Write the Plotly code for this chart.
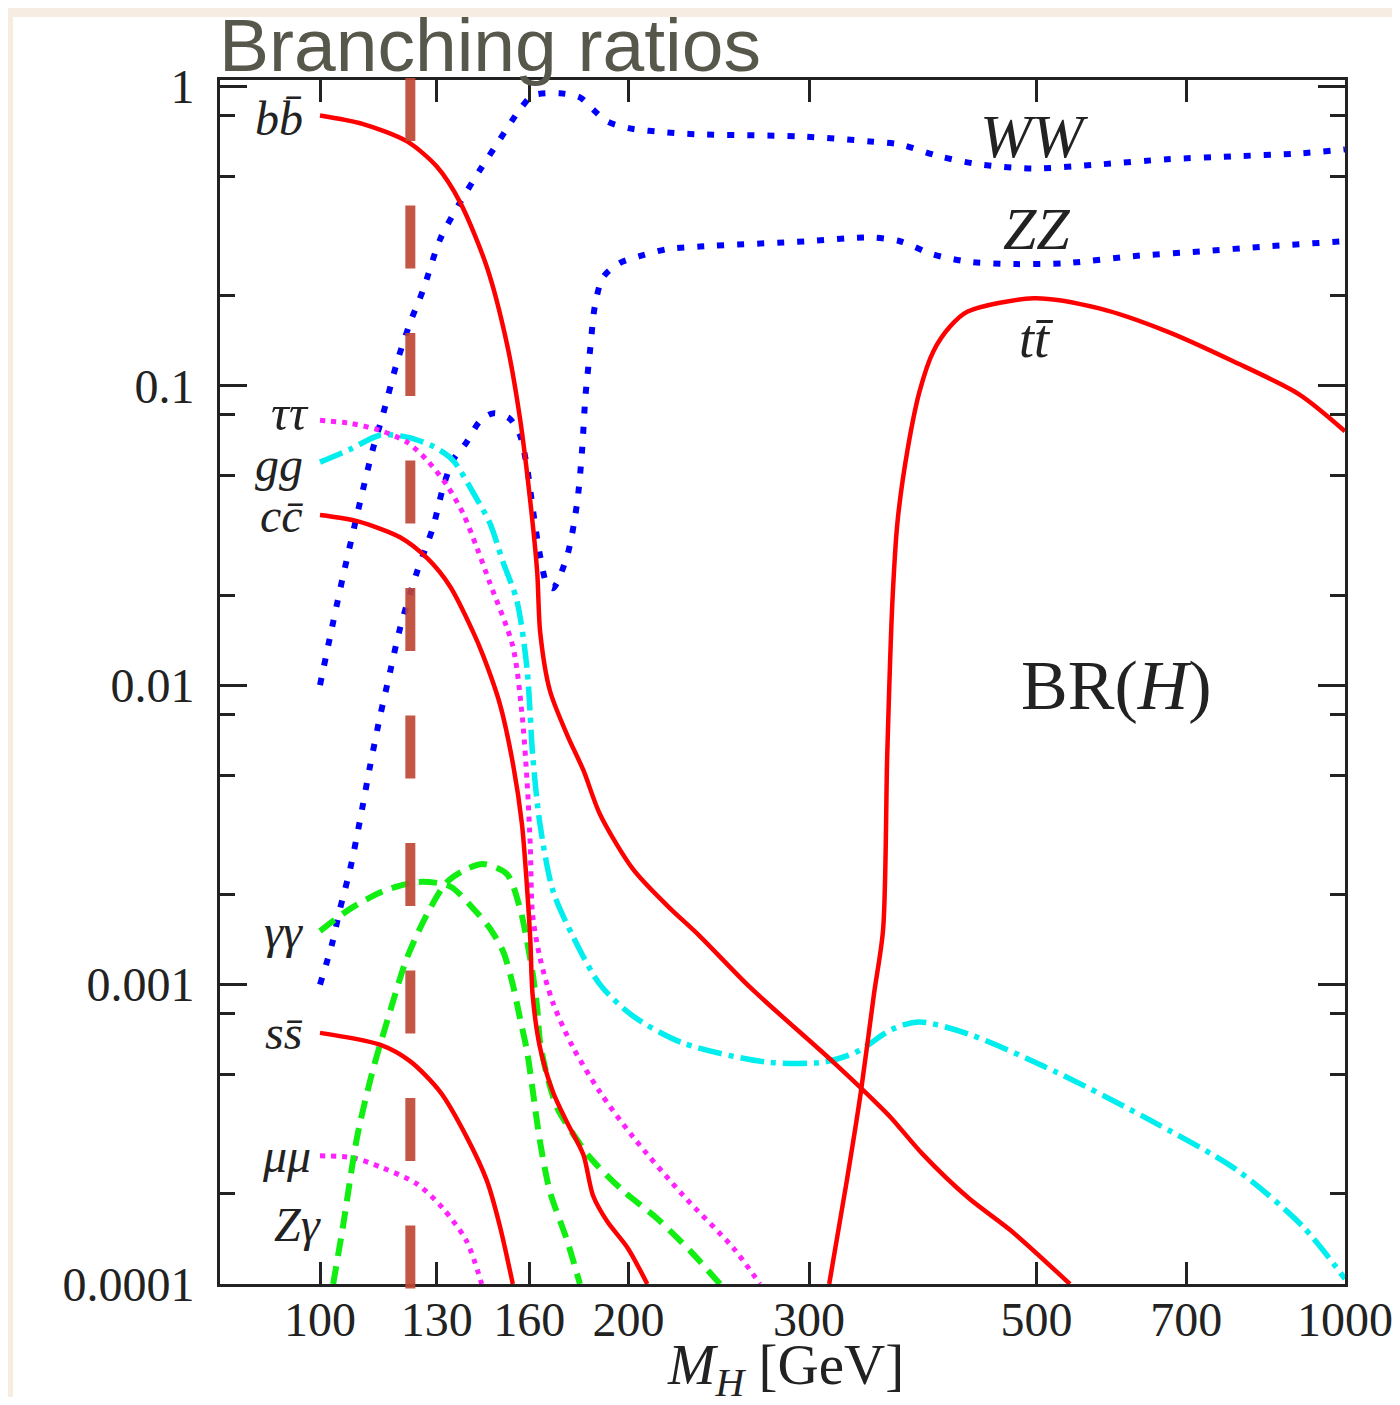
import math
import plotly.graph_objects as go

# ---------------- data ----------------
bb_x = [100, 110, 121.6, 130, 137, 145.5, 152.2, 156.7, 160.4, 162.9, 164, 167.6, 174.3, 180.7,
        187.6, 202, 218, 234.8, 262.7, 317, 350.7, 361, 387, 429, 473, 539]
bb_y = [0.80, 0.75, 0.655, 0.54, 0.41, 0.249, 0.138, 0.078, 0.041, 0.0238, 0.015, 0.0096, 0.0068,
        0.0052, 0.0037, 0.00243, 0.00184, 0.00145, 0.00098, 0.00055, 0.000396, 0.000358,
        0.000272, 0.000194, 0.00015, 0.0001]

cc_x = [100, 108.7, 119.7, 127.3, 133.9, 141.0, 144.2, 149.8, 154.4, 157.4, 159.2, 160.4, 161.2,
        163.9, 168.8, 174.3, 180.7, 184.6, 190.6, 199.6, 208.6]
cc_y = [0.037, 0.0353, 0.0312, 0.0265, 0.0214, 0.0151, 0.0126, 0.00865, 0.00537, 0.00344,
        0.00212, 0.00141, 0.00093, 0.000618, 0.000437, 0.000345, 0.00027, 0.000198, 0.000162,
        0.000132, 0.0001]

ss_x = [100, 114.4, 122.4, 131, 139, 145.5, 149.8, 154.2]
ss_y = [0.00069, 0.00063, 0.000555, 0.000438, 0.00031, 0.000221, 0.000156, 0.0001]

tt_x = [313.9, 326.6, 336.9, 347, 354.3, 357.6, 361.8, 366, 374.5, 384.6, 396.5, 412, 428.5,
        497, 577, 670, 777, 902, 1000]
tt_y = [0.0001, 0.000222, 0.000434, 0.000923, 0.00153, 0.00584, 0.0191, 0.0353, 0.0618, 0.096,
        0.130, 0.158, 0.177, 0.196, 0.181, 0.152, 0.121, 0.0937, 0.0705]

ww_x = [100, 102.7, 105.3, 109.4, 112.6, 115.2, 118.9, 122.4, 126, 131, 137, 143.2, 149.8, 156.7,
        161.3, 171.4, 179.3, 184.6, 190.6, 200.6, 218, 233, 294, 344, 368, 402, 440, 496, 577,
        670, 777, 902, 1000]
ww_y = [0.01, 0.0155, 0.0231, 0.0408, 0.0614, 0.0803, 0.120, 0.162, 0.208, 0.309, 0.410, 0.525,
        0.665, 0.838, 0.933, 0.948, 0.919, 0.838, 0.764, 0.724, 0.702, 0.692, 0.681, 0.655,
        0.640, 0.584, 0.549, 0.532, 0.549, 0.571, 0.584, 0.597, 0.616]

zz_x = [100, 102.7, 104.6, 107, 109.4, 111.9, 114.4, 117, 119.7, 124.3, 128.9, 131.8, 134.8, 139,
        143.2, 147.5, 153, 156.7, 159.2, 161.3, 163.9, 166.4, 168.8, 174.3, 178.2, 180.2, 181.5,
        183.5, 185.4, 188.8, 196, 205, 218, 234.8, 299, 344, 368, 396, 428, 478, 535, 621, 722,
        837, 1000]
zz_y = [0.001, 0.00136, 0.00179, 0.00243, 0.00354, 0.00537, 0.00782, 0.0110, 0.0155, 0.0238,
        0.0337, 0.0455, 0.0564, 0.0648, 0.0761, 0.0809, 0.0779, 0.0684, 0.0535, 0.0387, 0.0272,
        0.0219, 0.0211, 0.0272, 0.0408, 0.0614, 0.0915, 0.133, 0.184, 0.230, 0.257, 0.271,
        0.286, 0.292, 0.304, 0.313, 0.304, 0.275, 0.260, 0.255, 0.257, 0.271, 0.281, 0.292,
        0.304]

tau_x = [100, 107, 114.4, 121.6, 127.2, 133, 137.9, 142.3, 146.5, 154.2, 157.4, 159.2, 160.4,
         161.2, 163.9, 168.8, 176.5, 187.6, 202, 226, 253, 268.7]
tau_y = [0.0767, 0.0749, 0.071, 0.0648, 0.0564, 0.0465, 0.0375, 0.0287, 0.0219, 0.0135,
         0.00806, 0.00482, 0.00288, 0.00172, 0.00123, 0.000867, 0.000618, 0.000437, 0.00031,
         0.000198, 0.000132, 0.0001]

mu_x = [100, 107.7, 115.2, 124.3, 131.8, 139, 143.8]
mu_y = [0.000268, 0.000264, 0.000244, 0.000216, 0.000179, 0.000139, 0.0001]

gg_x = [100, 107, 114.4, 121.6, 128.9, 134.8, 141, 146.5, 150.9, 155.6, 159.2, 161.3, 163.9,
        168.8, 176.5, 187.6, 202, 226, 272.8, 310, 333.5, 361.8, 384.4, 429, 523, 640, 782, 909,
        1000]
gg_y = [0.0556, 0.0614, 0.0684, 0.0674, 0.0628, 0.0564, 0.0441, 0.0347, 0.0257, 0.0192, 0.0114,
        0.00575, 0.00344, 0.00205, 0.00145, 0.001, 0.000785, 0.000638, 0.000551, 0.000551,
        0.000595, 0.00071, 0.00075, 0.000684, 0.00051, 0.000358, 0.000242, 0.000156, 0.000104]

gaga_x = [100, 107, 115.2, 124.3, 131.8, 134.8, 141, 146.5, 150.9, 154.2, 156.7, 159.2, 161.3,
          163.9, 167.6, 174.3, 179.3]
gaga_y = [0.00151, 0.00179, 0.00205, 0.0022, 0.00217, 0.0021, 0.0018, 0.00154, 0.00129, 0.001,
          0.000773, 0.0006, 0.000441, 0.0003, 0.000204, 0.000139, 0.0001]

zg_x = [103, 105.3, 108.7, 112.6, 117, 121.6, 127.2, 133, 139, 144.2, 152.2, 156.7, 159.2, 161.3,
        162.9, 163.9, 166.4, 170.4, 176.6, 183.5, 197.5, 213, 229.7, 245.6]
zg_y = [0.0001, 0.000156, 0.00031, 0.000518, 0.00081, 0.00123, 0.00172, 0.0022, 0.00243,
        0.00253, 0.00234, 0.0018, 0.0014, 0.00108, 0.000835, 0.000648, 0.000502, 0.000387,
        0.000317, 0.000264, 0.000205, 0.000166, 0.000129, 0.0001]

mh_marker = 122.5   # vertical dashed line position [GeV]

x_tick_vals = [100, 130, 160, 200, 300, 500, 700, 1000]
x_tick_text = ["100", "130", "160", "200", "300", "500", "700", "1000"]
y_tick_vals = [1, 0.1, 0.01, 0.001, 0.0001]
y_tick_text = ["1", "0.1", "0.01", "0.001", "0.0001"]
y_minor_vals = [m * d for d in (0.1, 0.01, 0.001, 0.0001) for m in (8, 5, 2)]

# ---------------- styles / geometry ----------------
RED = "#ff0000"
BLUE = "#0000ff"
MAG = "#ff22ff"
CYAN = "#00eeee"
GREEN = "#11ee11"
INK = "#222222"
SERIF = "Liberation Serif"

W, H = 1384, 1389                 # figure size (page adds an 8px body margin)
L, T = 212, 72                    # plot-area top-left in figure pixels
PW, PH = 1125, 1203.6             # plot-area size
R, B = W - L - PW, H - T - PH


def px2paper_x(fx):
    return (fx - L) / PW


def px2paper_y(fy):
    return (T + PH - fy) / PH


fig = go.Figure()


def add(x, y, color, width, dash):
    fig.add_trace(go.Scatter(
        x=x, y=y, mode="lines",
        line=dict(color=color, width=width, dash=dash, shape="spline", smoothing=0.8),
        hoverinfo="skip", showlegend=False))


add(ww_x, ww_y, BLUE, 6, "7px,13px")
add(zz_x, zz_y, BLUE, 6, "7px,13px")
add(gg_x, gg_y, CYAN, 5.5, "24px,7px,5px,7px")
add(tau_x, tau_y, MAG, 5, "5px,6px")
add(mu_x, mu_y, MAG, 5, "5px,6px")
add(gaga_x, gaga_y, GREEN, 6, "18px,10px")
add(zg_x, zg_y, GREEN, 6, "18px,10px")
add(bb_x, bb_y, RED, 4.5, "solid")
add(cc_x, cc_y, RED, 4.5, "solid")
add(ss_x, ss_y, RED, 4.5, "solid")
add(tt_x, tt_y, RED, 4.5, "solid")

# white page panel on beige surround
fig.add_shape(type="rect", xref="paper", yref="paper",
              x0=px2paper_x(5), x1=px2paper_x(W + 20),
              y0=px2paper_y(H + 20), y1=px2paper_y(9),
              fillcolor="white", line=dict(width=0), layer="below")

# vertical dashed marker line (shape x is given in data units on a log axis)
fig.add_shape(type="line", xref="x", yref="paper",
              x0=mh_marker, x1=mh_marker,
              y0=px2paper_y(T - 2), y1=px2paper_y(T + PH + 6.5),
              line=dict(color="rgba(190,72,52,0.92)", width=10, dash="63px,64.5px"),
              layer="above")


def label(text, x, y, xanchor="right", size=48):
    fig.add_annotation(x=math.log10(x), y=math.log10(y), xref="x", yref="y",
                       text=text, showarrow=False, xanchor=xanchor, yanchor="middle",
                       font=dict(family=SERIF, size=size, color=INK))


label("<i>bb\u0304</i>", 96.7, 0.78)
label("<i>ττ</i>", 98.0, 0.081, size=50)
label("<i>gg</i>", 96.7, 0.0545)
label("<i>cc\u0304</i>", 96.7, 0.037)
label("<i>γγ</i>", 96.7, 0.00151)
label("<i>ss\u0304</i>", 96.7, 0.00069)
label("<i>μμ</i>", 98.4, 0.000268)
label("<i>Zγ</i>", 100.7, 0.000158)
label("<i>WW</i>", 498, 0.681, xanchor="center", size=62)
label("<i>ZZ</i>", 500, 0.333, xanchor="center", size=60)
label("<i>tt\u0304</i>", 500, 0.143, xanchor="center", size=54)
label("BR(<i>H</i>)", 599, 0.01, xanchor="center", size=70)

# x-axis title (placed as paper annotation so it can sit low in the margin)
fig.add_annotation(x=px2paper_x(777), y=px2paper_y(1361), xref="paper", yref="paper",
                   text="<i>M</i><sub><i>H</i></sub> [GeV]", showarrow=False,
                   xanchor="center", yanchor="middle",
                   font=dict(family=SERIF, size=57, color=INK))

fig.update_layout(
    width=W, height=H,
    margin=dict(l=L, r=R, t=T, b=B, autoexpand=False),
    paper_bgcolor="#f6ece1",
    plot_bgcolor="white",
    title=dict(text="Branching ratios", x=211 / W, xanchor="left", xref="container",
               y=1 - 37 / H, yanchor="middle", yref="container",
               font=dict(family="Liberation Sans", size=75, color="#57584b")),
    xaxis=dict(type="log", range=[math.log10(100) - 100 / 1025, 3], automargin=False,
               tickmode="array", tickvals=x_tick_vals, ticktext=x_tick_text,
               ticks="inside", ticklen=22, tickwidth=3, tickcolor=INK,
               showline=True, linewidth=3, linecolor=INK, mirror="ticks",
               showgrid=False, zeroline=False, ticklabeloverflow="allow",
               tickfont=dict(family=SERIF, size=48, color=INK),
               ticklabelstandoff=-9),
    yaxis=dict(type="log", range=[-4, 0.0214], automargin=False,
               tickmode="array", tickvals=y_tick_vals, ticktext=y_tick_text,
               ticks="inside", ticklen=27, tickwidth=3, tickcolor=INK,
               minor=dict(tickmode="array", tickvals=y_minor_vals, ticks="inside",
                          ticklen=15, tickwidth=3, tickcolor=INK, showgrid=False),
               showline=True, linewidth=3, linecolor=INK, mirror="ticks",
               showgrid=False, zeroline=False,
               tickfont=dict(family=SERIF, size=48, color=INK),
               ticklabelstandoff=13),
)

fig.write_html("out.html")
